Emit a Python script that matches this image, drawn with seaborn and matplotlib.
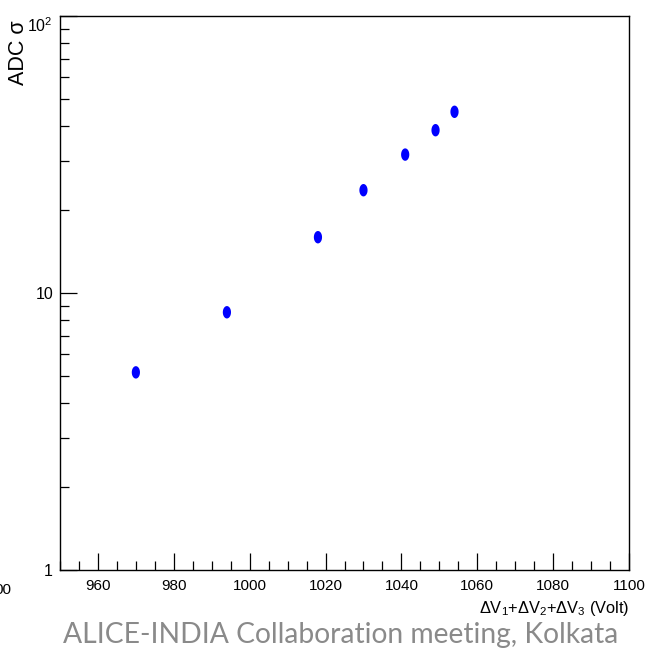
import numpy as np
import pandas as pd
import matplotlib
matplotlib.use("Agg")
import matplotlib.pyplot as plt
import seaborn as sns
from matplotlib.path import Path
from matplotlib.ticker import LogLocator, NullFormatter, MultipleLocator

# ---- data ----
voltage = [970, 994, 1018, 1030, 1041, 1049, 1054]
adc_sigma = [5.17, 8.52, 15.9, 23.5, 31.6, 38.7, 45.1]
y_ticks = [1, 10, 100]
y_tick_labels = ["1", "10", "$10^{2}$"]
x_ticks = [960, 980, 1000, 1020, 1040, 1060, 1080, 1100]

df = pd.DataFrame({"V": voltage, "sigma": adc_sigma})

W, H = 649, 651
DPI = 100
plt.rcParams["mathtext.fontset"] = "custom"
plt.rcParams["mathtext.rm"] = "Liberation Sans"
plt.rcParams["mathtext.it"] = "Liberation Sans:italic"
plt.rcParams["mathtext.bf"] = "Liberation Sans:bold"
sans = ["Liberation Sans", "DejaVu Sans"]

fig = plt.figure(figsize=(W / DPI, H / DPI), dpi=DPI, facecolor="white")
x0, x1, ytop, ybot = 60, 629, 16, 570
ax = fig.add_axes([x0 / W, (H - ybot) / H, (x1 - x0) / W, (ybot - ytop) / H])

# elliptical marker (taller than wide, as in the picture)
t = np.linspace(0, 2 * np.pi, 40)
ell = Path(np.column_stack([0.66 * np.cos(t), np.sin(t)]), closed=True)

sns.scatterplot(data=df, x="V", y="sigma", ax=ax, marker=ell, s=80,
                color="#0000ff", edgecolor="none", linewidth=0, legend=False)

ax.set_yscale("log")
ax.set_xlim(950, 1100)
ax.set_ylim(1, 100)

ax.set_xticks(x_ticks)
ax.set_xticklabels([str(v) for v in x_ticks], fontfamily=sans, fontsize=11)
ax.xaxis.set_minor_locator(MultipleLocator(5))
ax.set_yticks(y_ticks)
ax.set_yticklabels(y_tick_labels, fontfamily=sans, fontsize=11.5)
ax.yaxis.set_minor_locator(LogLocator(base=10, subs=np.arange(2, 10)))
ax.yaxis.set_minor_formatter(NullFormatter())
ax.get_yticklabels()[2].set_va("top")

ax.tick_params(axis="both", which="major", direction="in", length=12.2, width=0.9,
               color="black", top=False, right=False)
ax.tick_params(axis="both", which="minor", direction="in", length=6.2, width=0.9,
               color="black", top=False, right=False)
ax.tick_params(axis="x", which="major", pad=6.5)
ax.tick_params(axis="y", which="major", pad=5)
for sp in ax.spines.values():
    sp.set_linewidth(1.0)
    sp.set_color("black")

ax.set_xlabel("ΔV$_1$+ΔV$_2$+ΔV$_3$ (Volt)", fontfamily=sans, fontsize=11.8, loc="right")
ax.xaxis.set_label_coords(1.0, -0.052)
ax.set_ylabel("ADC σ", fontfamily=sans, fontsize=15.5, loc="top")
ax.yaxis.set_label_coords(-0.054, 0.993)
ax.grid(False)

# cropped fragment at the bottom-left edge
fig.text(11 / W, 1 - 590 / H, "00", ha="right", va="center",
         fontfamily=sans, fontsize=11, color="black")
# footer
fig.text(63 / W, 1 - 643 / H, "ALICE-INDIA Collaboration meeting, Kolkata",
         ha="left", va="baseline", fontfamily=["Lato", "DejaVu Sans"], fontsize=20.3,
         color="#8a8a8a")

fig.savefig("out.png", dpi=DPI, facecolor="white")
